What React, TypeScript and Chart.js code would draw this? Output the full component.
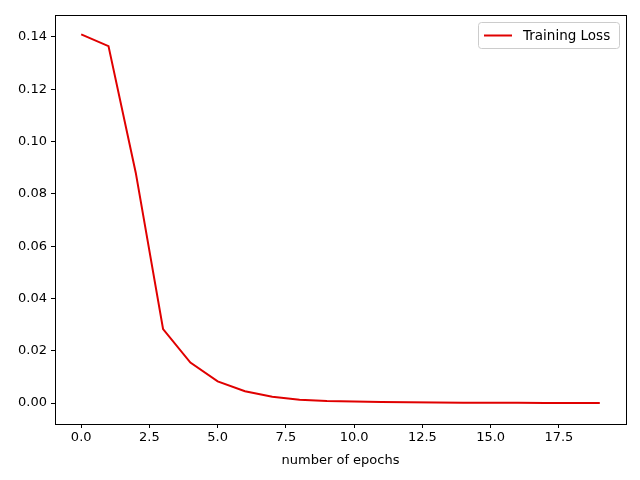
import React, { useEffect, useRef } from 'react';
import Chart from 'chart.js/auto';

const epochs = [0, 1, 2, 3, 4, 5, 6, 7, 8, 9, 10, 11, 12, 13, 14, 15, 16, 17, 18, 19];
const trainingLoss = [
  0.141, 0.1365, 0.088, 0.0283, 0.0155, 0.0083, 0.0045, 0.0024, 0.0013, 0.0008,
  0.0006, 0.0004, 0.0003, 0.0002, 0.00015, 0.0001, 0.00008, 0.00006, 0.00005, 0.00004,
];
const xTicks = [0, 2.5, 5, 7.5, 10, 12.5, 15, 17.5];
const yTicks = [0, 0.02, 0.04, 0.06, 0.08, 0.1, 0.12, 0.14];
const FONT = 'DejaVu Sans';

const framePlugin = {
  id: 'frame',
  afterDraw(chart: any) {
    const { ctx, chartArea: a } = chart;
    ctx.save();
    ctx.strokeStyle = '#000';
    ctx.lineWidth = 1;
    ctx.strokeRect(a.left + 0.5, a.top + 0.5, a.right - a.left, a.bottom - a.top);
    // legend
    const x = a.right - 148, y = a.top + 7;
    ctx.fillStyle = 'rgba(255,255,255,0.8)';
    ctx.strokeStyle = '#ccc';
    ctx.beginPath();
    ctx.roundRect(x + 0.5, y + 0.5, 141, 26, 3);
    ctx.fill();
    ctx.stroke();
    ctx.strokeStyle = '#e00000';
    ctx.lineWidth = 2;
    ctx.beginPath();
    ctx.moveTo(x + 6, y + 13.5);
    ctx.lineTo(x + 34, y + 13.5);
    ctx.stroke();
    ctx.fillStyle = '#000';
    ctx.font = `13.5px "${FONT}"`;
    ctx.textBaseline = 'middle';
    ctx.fillText('Training Loss', x + 45, y + 14);
    ctx.restore();
  },
};

export default function App() {
  const canvasRef = useRef<HTMLCanvasElement | null>(null);

  useEffect(() => {
    document.body.style.margin = '0';
    const canvas = canvasRef.current;
    if (!canvas) return;
    const setTicks = (vals: number[]) => (scale: any) => {
      scale.ticks = vals.map((v) => ({ value: v }));
    };
    const chart = new Chart(canvas, {
      type: 'line',
      data: {
        datasets: [
          {
            label: 'Training Loss',
            data: epochs.map((e, i) => ({ x: e, y: trainingLoss[i] })),
            borderColor: '#e00000',
            borderWidth: 2,
            pointRadius: 0,
            tension: 0,
          },
        ],
      },
      options: {
        animation: false,
        responsive: false,
        layout: { padding: { top: 15, right: 14, left: 0, bottom: 0 } },
        plugins: { legend: { display: false }, tooltip: { enabled: false } },
        scales: {
          x: {
            type: 'linear',
            min: -0.96,
            max: 19.96,
            afterBuildTicks: setTicks(xTicks),
            afterFit: (s: any) => { s.height = 56; },
            ticks: { color: '#000', font: { family: FONT, size: 13 }, maxRotation: 0, padding: 2, callback: (v: any) => Number(v).toFixed(1) },
            grid: { drawOnChartArea: false, tickLength: 4, color: '#000' },
            border: { color: '#000' },
            title: { display: true, text: 'number of epochs', color: '#000', font: { family: FONT, size: 13 }, padding: { top: 0, bottom: 12 } },
          },
          y: {
            min: -0.008,
            max: 0.1484,
            afterBuildTicks: setTicks(yTicks),
            afterFit: (s: any) => { s.width = 55; },
            ticks: { color: '#000', font: { family: FONT, size: 13 }, padding: 4, callback: (v: any) => Number(v).toFixed(2) },
            grid: { drawOnChartArea: false, tickLength: 4, color: '#000' },
            border: { color: '#000' },
          },
        },
      },
      plugins: [framePlugin],
    });
    return () => chart.destroy();
  }, []);

  return <canvas ref={canvasRef} width={640} height={480} style={{ display: 'block', background: '#fff' }} />;
}
